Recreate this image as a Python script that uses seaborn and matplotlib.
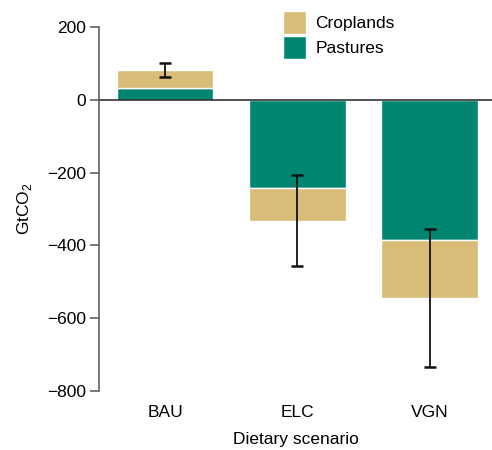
import matplotlib
matplotlib.use('Agg')
import matplotlib.pyplot as plt
import seaborn as sns
import numpy as np
import pandas as pd

# Données
scenarios = ['BAU', 'ELC', 'VGN']
pastures = [33, -242, -385]
croplands = [49, -90, -160]
err_half = [19, 125, 190]

col_crop = '#D8BC78'
col_past = '#008670'

sns.set_theme(style='white')
plt.rcParams['font.family'] = ['Liberation Sans', 'DejaVu Sans']
plt.rcParams['mathtext.fontset'] = 'custom'
plt.rcParams['mathtext.rm'] = 'Liberation Sans'
plt.rcParams['text.color'] = 'black'
plt.rcParams['axes.labelcolor'] = 'black'
plt.rcParams['xtick.color'] = 'black'
plt.rcParams['ytick.color'] = 'black'

fs = 12.5

df = pd.DataFrame({'scenario': scenarios, 'pastures': pastures, 'croplands': croplands})
df['total'] = df['pastures'] + df['croplands']

fig = plt.figure(figsize=(4.92, 4.5), dpi=100)
ax = fig.add_axes([0.201, 0.131, 0.799, 0.809])

sns.barplot(data=df, x='scenario', y='pastures', color=col_past, width=0.73,
            saturation=1, ax=ax, label='Pastures')
sns.barplot(data=df, x='scenario', y='croplands', bottom=df['pastures'], color=col_crop,
            width=0.73, saturation=1, ax=ax, label='Croplands')

ax.errorbar(np.arange(len(scenarios)), df['total'], yerr=err_half, fmt='none',
            ecolor='#111111', elinewidth=1.3, capsize=4.5, capthick=1.8)

ax.axhline(0, color='#222222', lw=1.1)
ax.set_xlim(-0.5, 2.47)
ax.set_ylim(-800, 200)
ax.set_yticks([-800, -600, -400, -200, 0, 200])
ax.set_yticklabels(['\u2212800', '\u2212600', '\u2212400', '\u2212200', '0', '200'])

for s in ['top', 'right', 'bottom']:
    ax.spines[s].set_visible(False)
ax.spines['left'].set_color('#555555')
ax.spines['left'].set_linewidth(1.1)
ax.tick_params(axis='y', length=6.5, width=1.1, color='#555555', labelsize=fs, pad=3,
               left=True)
ax.tick_params(axis='x', length=0, labelsize=fs, pad=10)

ax.set_xlabel('Dietary scenario', fontsize=fs, labelpad=9)
ax.set_ylabel('GtCO$_2$', fontsize=fs, labelpad=9)

h, l = ax.get_legend_handles_labels()
order = [l.index('Croplands'), l.index('Pastures')]
ax.legend([h[i] for i in order], [l[i] for i in order], loc='upper left',
          bbox_to_anchor=(0.468, 1.044), frameon=False, fontsize=fs,
          handlelength=1.32, handleheight=1.66, handletextpad=0.55, labelspacing=0.1,
          borderaxespad=0, borderpad=0)

fig.savefig('out.png', dpi=100)
